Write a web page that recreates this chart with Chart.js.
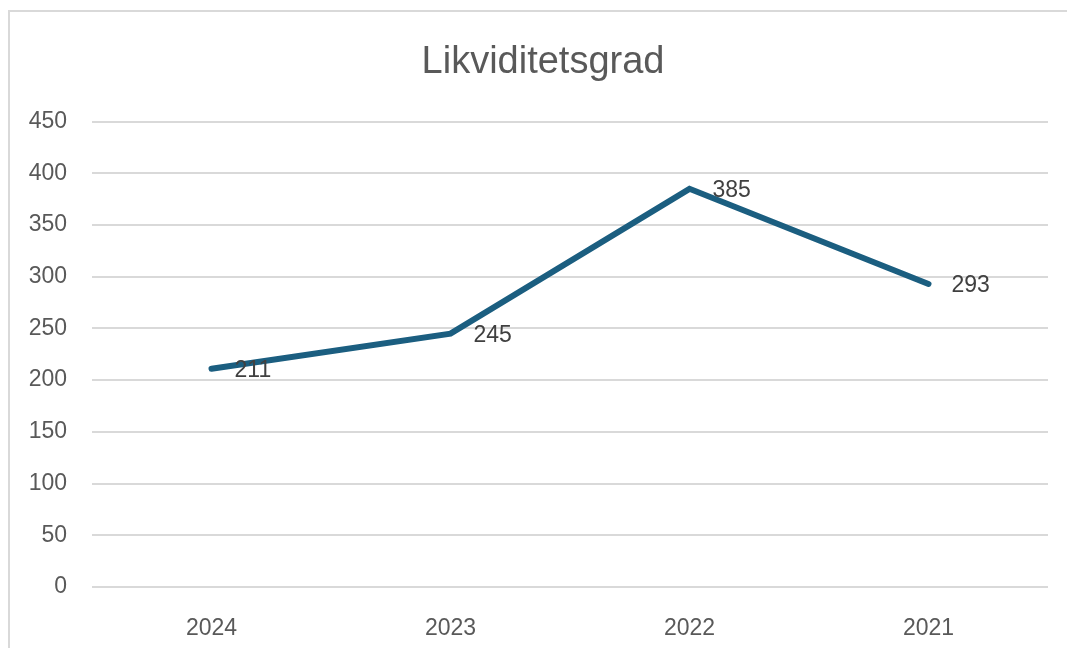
<!DOCTYPE html>
<html>
<head>
<meta charset="utf-8">
<script src="https://cdn.jsdelivr.net/npm/chart.js@4"></script>
<style>
  html, body { margin: 0; padding: 0; background: #fff; overflow: hidden; }
  #frame {
    position: absolute; left: 8px; top: 10px; width: 1100px; height: 700px;
    border-left: 2px solid #d9d9d9; border-top: 2px solid #d9d9d9;
  }
  #wrap { position: absolute; left: 0; top: 0; width: 1067px; height: 648px; }
</style>
</head>
<body>
<div id="frame"></div>
<div id="wrap"><canvas id="chart" width="1067" height="648"></canvas></div>
<script>
const years = ["2024", "2023", "2022", "2021"];
const ratios = [211, 245, 385, 293];
const yTicks = [0, 50, 100, 150, 200, 250, 300, 350, 400, 450];

// labels to the right of each point
const valueLabels = {
    id: "valueLabels",
    afterDatasetsDraw(chart) {
        const ctx = chart.ctx;
        const meta = chart.getDatasetMeta(0);
        ctx.save();
        ctx.font = "23px 'Liberation Sans', Arial, sans-serif";
        ctx.fillStyle = "#404040";
        ctx.textAlign = "left";
        ctx.textBaseline = "middle";
        meta.data.forEach((pt, i) => {
            ctx.fillText(String(ratios[i]), pt.x + 23, pt.y + 2);
        });
        ctx.restore();
    }
};

// title sits a little right of canvas centre in the original
const titleShift = {
    id: "titleShift",
    afterLayout(chart) {
        if (chart.titleBlock) chart.titleBlock.left = 38;
    }
};

const ctx = document.getElementById("chart").getContext("2d");
new Chart(ctx, {
    type: "line",
    data: {
        labels: years,
        datasets: [{
            label: "Likviditetsgrad",
            data: ratios,
            borderColor: "#1b5e80",
            borderWidth: 6,
            borderCapStyle: "round",
            pointRadius: 0,
            tension: 0
        }]
    },
    options: {
        responsive: false,
        animation: false,
        layout: { padding: { left: 0, right: 19, top: 0, bottom: 0 } },
        plugins: {
            legend: { display: false },
            tooltip: { enabled: false },
            title: {
                display: true,
                text: "Likviditetsgrad",
                color: "#595959",
                font: { family: "'Liberation Sans', Arial, sans-serif", size: 38, weight: "normal" },
                padding: { top: 40, bottom: 36 }
            }
        },
        scales: {
            x: {
                offset: true,
                grid: { display: false },
                border: { display: false },
                ticks: {
                    color: "#595959",
                    font: { family: "'Liberation Sans', Arial, sans-serif", size: 23 },
                    padding: 20
                },
                afterFit(scale) { scale.height = 61; }
            },
            y: {
                min: 0,
                max: 450,
                afterBuildTicks(scale) { scale.ticks = yTicks.map(v => ({ value: v })); },
                grid: { color: "#d9d9d9", lineWidth: 2, drawTicks: false },
                border: { display: false },
                ticks: {
                    color: "#595959",
                    font: { family: "'Liberation Sans', Arial, sans-serif", size: 23 },
                    padding: 25
                },
                afterFit(scale) { scale.width = 92; }
            }
        }
    },
    plugins: [valueLabels, titleShift]
});
</script>
</body>
</html>
